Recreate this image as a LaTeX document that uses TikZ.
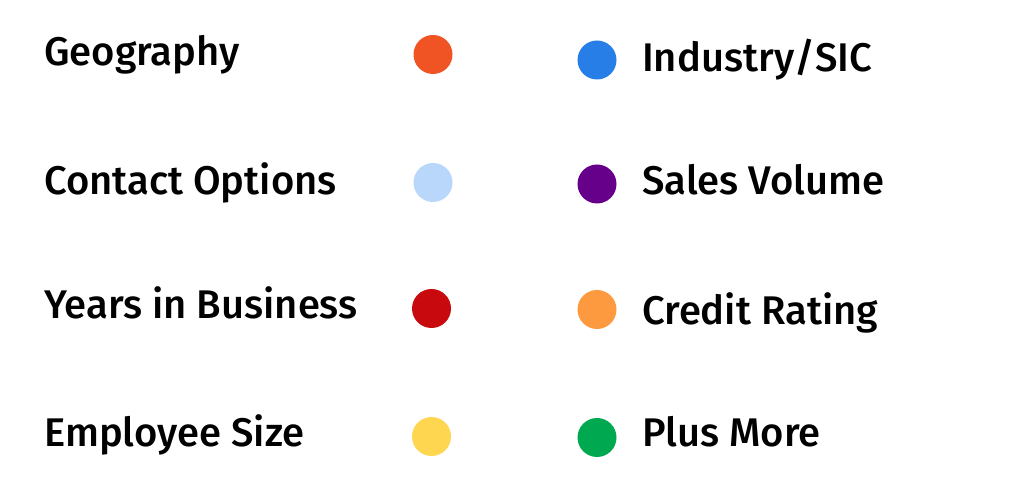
\documentclass[tikz,border=0pt]{standalone}
\usepackage{fontspec}
\setmainfont{Liberation Sans}
\newfontfamily\labelfont{Fira Sans Medium}
\definecolor{cgeo}{HTML}{F05425}
\definecolor{ccontact}{HTML}{B9D7FB}
\definecolor{cyears}{HTML}{C8090E}
\definecolor{cemp}{HTML}{FFD64F}
\definecolor{cind}{HTML}{267EE6}
\definecolor{csales}{HTML}{66008A}
\definecolor{ccredit}{HTML}{FD9A40}
\definecolor{cmore}{HTML}{00A94F}
\tikzset{
  lbl/.style={anchor=base west, inner sep=0pt, font=\labelfont\fontsize{40}{48}\selectfont, text=black},
  dot/.style={circle, fill=#1, draw=none, minimum size=39pt, inner sep=0pt}
}
\begin{document}
\begin{tikzpicture}[x=1pt,y=1pt]
\useasboundingbox (0,0) rectangle (1024,492);
\fill[white] (0,0) rectangle (1024,492);
% left column
\node[lbl] (geo) at (44,426) {Geography};
\node[lbl] (contact) at (44,297) {Contact Options};
\node[lbl] (years) at (44,173) {Years in Business};
\node[lbl] (emp) at (44,45) {Employee Size};
\node[dot=cgeo] (dgeo) at (433,437.5) {};
\node[dot=ccontact] (dcontact) at (433,309.5) {};
\node[dot=cyears] (dyears) at (431.5,183.5) {};
\node[dot=cemp] (demp) at (431.5,55.5) {};
% right column
\node[dot=cind] (dind) at (597,432) {};
\node[dot=csales] (dsales) at (597,308) {};
\node[dot=ccredit] (dcredit) at (597,182.5) {};
\node[dot=cmore] (dmore) at (597,54.5) {};
\node[lbl] (ind) at (642,420) {Industry/SIC};
\node[lbl] (sales) at (642,297) {Sales Volume};
\node[lbl] (credit) at (642,167) {Credit Rating};
\node[lbl] (more) at (642,45) {Plus More};
\end{tikzpicture}
\end{document}
